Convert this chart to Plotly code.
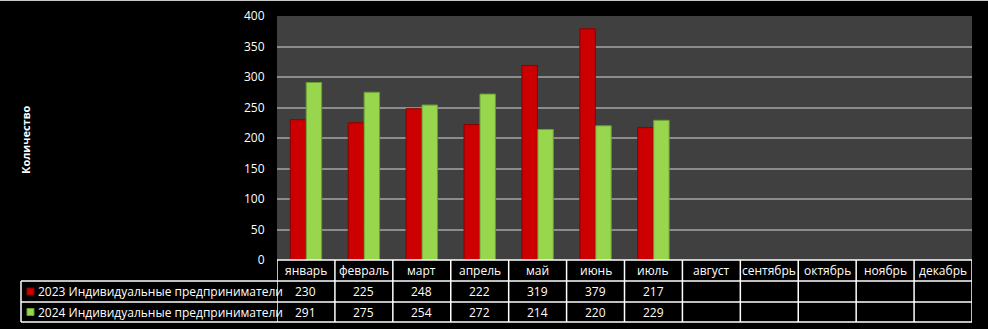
import plotly.graph_objects as go

months = ["январь", "февраль", "март", "апрель", "май", "июнь", "июль",
          "август", "сентябрь", "октябрь", "ноябрь", "декабрь"]
series_names = ["2023 Индивидуальные предприниматели", "2024 Индивидуальные предприниматели"]
values_2023 = [230, 225, 248, 222, 319, 379, 217, None, None, None, None, None]
values_2024 = [291, 275, 254, 272, 214, 220, 229, None, None, None, None, None]
y_ticks = [0, 50, 100, 150, 200, 250, 300, 350, 400]

W, H = 988, 329
L, R, T, B = 277, 16, 16, 69
PW, PH = W - L - R, H - T - B

def py(pix):  # pixel y -> paper y
    return (H - B - pix) / PH

def px(pix):  # pixel x -> paper x
    return (pix - L) / PW

RED, RED_EDGE = "#cc0000", "#8a0000"
GREEN, GREEN_EDGE = "#98d64e", "#6a9e32"
FONT = "Open Sans"
FS = 12

fig = go.Figure()
fig.add_trace(go.Bar(x=months, y=values_2023, name=series_names[0],
                     marker=dict(color=RED, line=dict(color=RED_EDGE, width=1))))
fig.add_trace(go.Bar(x=months, y=values_2024, name=series_names[1],
                     marker=dict(color=GREEN, line=dict(color=GREEN_EDGE, width=1))))

shapes = []
annotations = []
row_y = [260, 281, 302, 322]
line_style = dict(color="white", width=1.5)
shapes.append(dict(type="line", xref="paper", yref="paper", x0=0, x1=1,
                   y0=py(row_y[0]), y1=py(row_y[0]), line=line_style))
for r in row_y[1:]:
    shapes.append(dict(type="line", xref="paper", yref="paper", x0=px(21), x1=1,
                       y0=py(r), y1=py(r), line=line_style))
for k in range(len(months) + 1):
    shapes.append(dict(type="line", xref="x", yref="paper", x0=k - 0.5, x1=k - 0.5,
                       y0=py(row_y[0]), y1=py(row_y[3]), line=line_style))
shapes.append(dict(type="line", xref="paper", yref="paper", x0=px(21), x1=px(21),
                   y0=py(row_y[1]), y1=py(row_y[3]), line=line_style))
for i, (c, e) in enumerate([(RED, RED_EDGE), (GREEN, GREEN_EDGE)]):
    yc = (row_y[i + 1] + row_y[i + 2]) / 2
    shapes.append(dict(type="rect", xref="paper", yref="paper",
                       x0=px(27), x1=px(34), y0=py(yc + 3.5), y1=py(yc - 3.5),
                       fillcolor=c, line=dict(color=e, width=1)))
    annotations.append(dict(xref="paper", yref="paper", x=px(36), y=py(yc),
                            text=series_names[i], showarrow=False, xanchor="left",
                            yanchor="middle", font=dict(color="white", size=FS, family=FONT)))
hdr_y = py((row_y[0] + row_y[1]) / 2)
for m in months:
    annotations.append(dict(xref="x", yref="paper", x=m, y=hdr_y, text=m, showarrow=False,
                            yanchor="middle", font=dict(color="white", size=FS, family=FONT)))
for i, vals in enumerate([values_2023, values_2024]):
    yc = py((row_y[i + 1] + row_y[i + 2]) / 2)
    for m, v in zip(months, vals):
        if v is not None:
            annotations.append(dict(xref="x", yref="paper", x=m, y=yc, text=str(v),
                                    showarrow=False, yanchor="middle",
                                    font=dict(color="white", size=FS, family=FONT)))
annotations.append(dict(xref="paper", yref="paper", x=px(25), y=py(140), text="<b>Количество</b>",
                        textangle=-90, showarrow=False, xanchor="center", yanchor="middle",
                        font=dict(color="white", size=11, family=FONT)))
shapes.append(dict(type="line", xref="paper", yref="paper", x0=px(0), x1=px(W),
                   y0=py(0.5), y1=py(0.5), line=dict(color="#c8c8c8", width=1)))

fig.update_layout(
    template="none",
    width=W, height=H,
    margin=dict(l=L, r=R, t=T, b=B, autoexpand=False),
    paper_bgcolor="black", plot_bgcolor="#404040",
    barmode="group", bargap=0.45, bargroupgap=0.03,
    showlegend=False,
    shapes=shapes, annotations=annotations,
    xaxis=dict(type="category", categoryorder="array", categoryarray=months,
               showticklabels=False, showgrid=False, zeroline=False, showline=False,
               ticks="", automargin=False,
               range=[-0.5, len(months) - 0.5], fixedrange=True),
    yaxis=dict(range=[0, 400], tickvals=y_ticks, showgrid=True, gridcolor="#8c8c8c",
               gridwidth=1.5, zeroline=False, showline=False, ticks="outside", ticklen=9,
               tickcolor="black", automargin=False,
               tickfont=dict(color="white", size=FS, family=FONT), fixedrange=True),
    font=dict(family=FONT, color="white"),
)
fig.write_html("out.html")
